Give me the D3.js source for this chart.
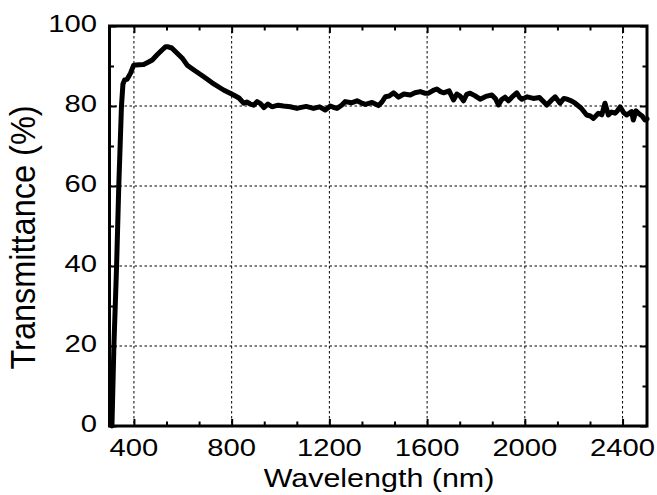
<!DOCTYPE html>
<html>
<head>
<meta charset="utf-8">
<script src="https://cdn.jsdelivr.net/npm/d3@7"></script>
<style>
  html, body { margin: 0; padding: 0; background: #fff; }
  svg { display: block; }
  text { font-family: "Liberation Sans", Arial, sans-serif; fill: #000; }
</style>
</head>
<body>
<svg id="chart" width="657" height="495"></svg>
<script>
// ---- data ----
const wavelength = [310, 318, 329, 338, 349, 355, 362, 372, 386, 399, 420, 440, 460, 475, 495, 515, 529, 540, 555, 577, 600, 618, 650, 686, 720, 767, 808, 830, 849, 862, 876, 890, 904, 918, 932, 948, 965, 990, 1012, 1040, 1067, 1080, 1105, 1135, 1160, 1183, 1204, 1220, 1231, 1250, 1265, 1290, 1313, 1330, 1347, 1375, 1401, 1415, 1429, 1445, 1463, 1483, 1505, 1531, 1550, 1572, 1590, 1606, 1625, 1640, 1655, 1667, 1690, 1708, 1722, 1735, 1749, 1762, 1776, 1795, 1817, 1840, 1865, 1880, 1892, 1905, 1919, 1933, 1947, 1967, 1978, 1988, 2010, 2035, 2060, 2075, 2090, 2108, 2124, 2144, 2160, 2172, 2190, 2206, 2230, 2253, 2268, 2281, 2301, 2315, 2328, 2342, 2355, 2369, 2380, 2390, 2405, 2417, 2437, 2444, 2455, 2465, 2480, 2492, 2500];
const transmittance = [0, 20, 40, 60, 80, 85.5, 86.5, 86.7, 88.2, 90.2, 90.3, 90.4, 91, 91.5, 92.8, 94, 94.8, 94.8, 94.5, 93.2, 91.8, 90.2, 88.8, 87.3, 85.8, 84, 82.75, 82, 80.7, 81, 80.5, 80.2, 81.1, 80.6, 79.6, 80.5, 79.8, 80.2, 80, 79.8, 79.4, 79.6, 79.9, 79.4, 79.8, 79, 80, 79.6, 79.4, 80.2, 81.1, 80.8, 81.3, 80.8, 80.4, 80.9, 80.1, 81, 82.3, 82.5, 83.3, 82.2, 83, 82.75, 83.3, 83.6, 83.2, 83.2, 83.9, 84.25, 83.6, 83.3, 83.8, 81.5, 83, 82.5, 81.3, 82.9, 83.2, 82.6, 81.7, 82.4, 82.75, 81.8, 80.25, 81.6, 82.2, 81.3, 82.2, 83.3, 82.2, 81.7, 82.3, 81.9, 82.1, 81.2, 80.25, 81.4, 82.3, 80.7, 81.9, 81.7, 81.3, 80.7, 79.5, 77.75, 77.5, 76.9, 78.2, 77.8, 80.7, 77.75, 78.5, 78.2, 78.9, 79.8, 78.3, 77.75, 78.6, 76.5, 78.8, 78.2, 77.5, 76.5, 76.8];
const xMajorTicks = [400, 800, 1200, 1600, 2000, 2400];
const xMinorTicks = [533.33, 666.67, 933.33, 1066.67, 1333.33, 1466.67, 1733.33, 1866.67, 2133.33, 2266.67];
const yMajorTicks = [0, 20, 40, 60, 80, 100];
const yMinorTicks = [10, 30, 50, 70, 90];
const xTitle = "Wavelength (nm)";
const yTitle = "Transmittance (%)";

// ---- layout ----
const L = 109.5, R = 647, T = 26, B = 426;
const svg = d3.select("#chart");
const x = d3.scaleLinear().domain([300, 2500]).range([L, R]);
const y = d3.scaleLinear().domain([0, 100]).range([B, T]);

// grid
const grid = svg.append("g").attr("stroke", "#000").attr("stroke-width", 1).attr("stroke-dasharray", "2.5,2.5");
xMajorTicks.forEach(v => grid.append("line").attr("x1", x(v)).attr("x2", x(v)).attr("y1", T).attr("y2", B));
yMajorTicks.filter(v => v > 0 && v < 100).forEach(v => grid.append("line").attr("x1", L).attr("x2", R).attr("y1", y(v)).attr("y2", y(v)));

// axes via d3 (inward ticks), mirrored
function styleAxis(g) {
  g.selectAll("text").remove();
  g.select(".domain").remove();
  g.selectAll("line").attr("stroke", "#000").attr("stroke-width", 2);
}
const maj = 7, mnr = 4.5;
svg.append("g").attr("transform", `translate(0,${B})`).call(d3.axisBottom(x).tickValues(xMajorTicks).tickSize(-maj)).call(styleAxis);
svg.append("g").attr("transform", `translate(0,${B})`).call(d3.axisBottom(x).tickValues(xMinorTicks).tickSize(-mnr)).call(styleAxis);
svg.append("g").attr("transform", `translate(0,${T})`).call(d3.axisTop(x).tickValues(xMajorTicks).tickSize(-maj)).call(styleAxis);
svg.append("g").attr("transform", `translate(0,${T})`).call(d3.axisTop(x).tickValues(xMinorTicks).tickSize(-mnr)).call(styleAxis);
svg.append("g").attr("transform", `translate(${L},0)`).call(d3.axisLeft(y).tickValues(yMajorTicks).tickSize(-maj)).call(styleAxis);
svg.append("g").attr("transform", `translate(${L},0)`).call(d3.axisLeft(y).tickValues(yMinorTicks).tickSize(-mnr)).call(styleAxis);
svg.append("g").attr("transform", `translate(${R},0)`).call(d3.axisRight(y).tickValues(yMajorTicks).tickSize(-maj)).call(styleAxis);
svg.append("g").attr("transform", `translate(${R},0)`).call(d3.axisRight(y).tickValues(yMinorTicks).tickSize(-mnr)).call(styleAxis);

// data line
const data = wavelength.map((w, i) => ({ w, t: transmittance[i] }));
svg.append("path").datum(data)
  .attr("fill", "none").attr("stroke", "#000").attr("stroke-width", 5)
  .attr("stroke-linejoin", "round").attr("stroke-linecap", "round")
  .attr("d", d3.line().x(d => x(d.w)).y(d => y(d.t)));

// frame
svg.append("rect").attr("x", L).attr("y", T).attr("width", R - L).attr("height", B - T)
  .attr("fill", "none").attr("stroke", "#000").attr("stroke-width", 3);

// tick labels
const sx = 1.27;
xMajorTicks.forEach(v => {
  svg.append("text").attr("transform", `translate(${x(v)},456) scale(${sx},1)`)
    .attr("text-anchor", "middle").attr("font-size", 23).text(v);
});
yMajorTicks.forEach(v => {
  svg.append("text").attr("transform", `translate(97,${y(v) + 6.3}) scale(${sx},1)`)
    .attr("text-anchor", "end").attr("font-size", 23).text(v);
});

// titles
svg.append("text").attr("transform", `translate(379,487) scale(1.19,1)`)
  .attr("text-anchor", "middle").attr("font-size", 25.6).text(xTitle);
svg.append("text").attr("transform", `translate(35,237.5) scale(1.07,1) rotate(-90)`)
  .attr("text-anchor", "middle").attr("font-size", 32.5).text(yTitle);
</script>
</body>
</html>
